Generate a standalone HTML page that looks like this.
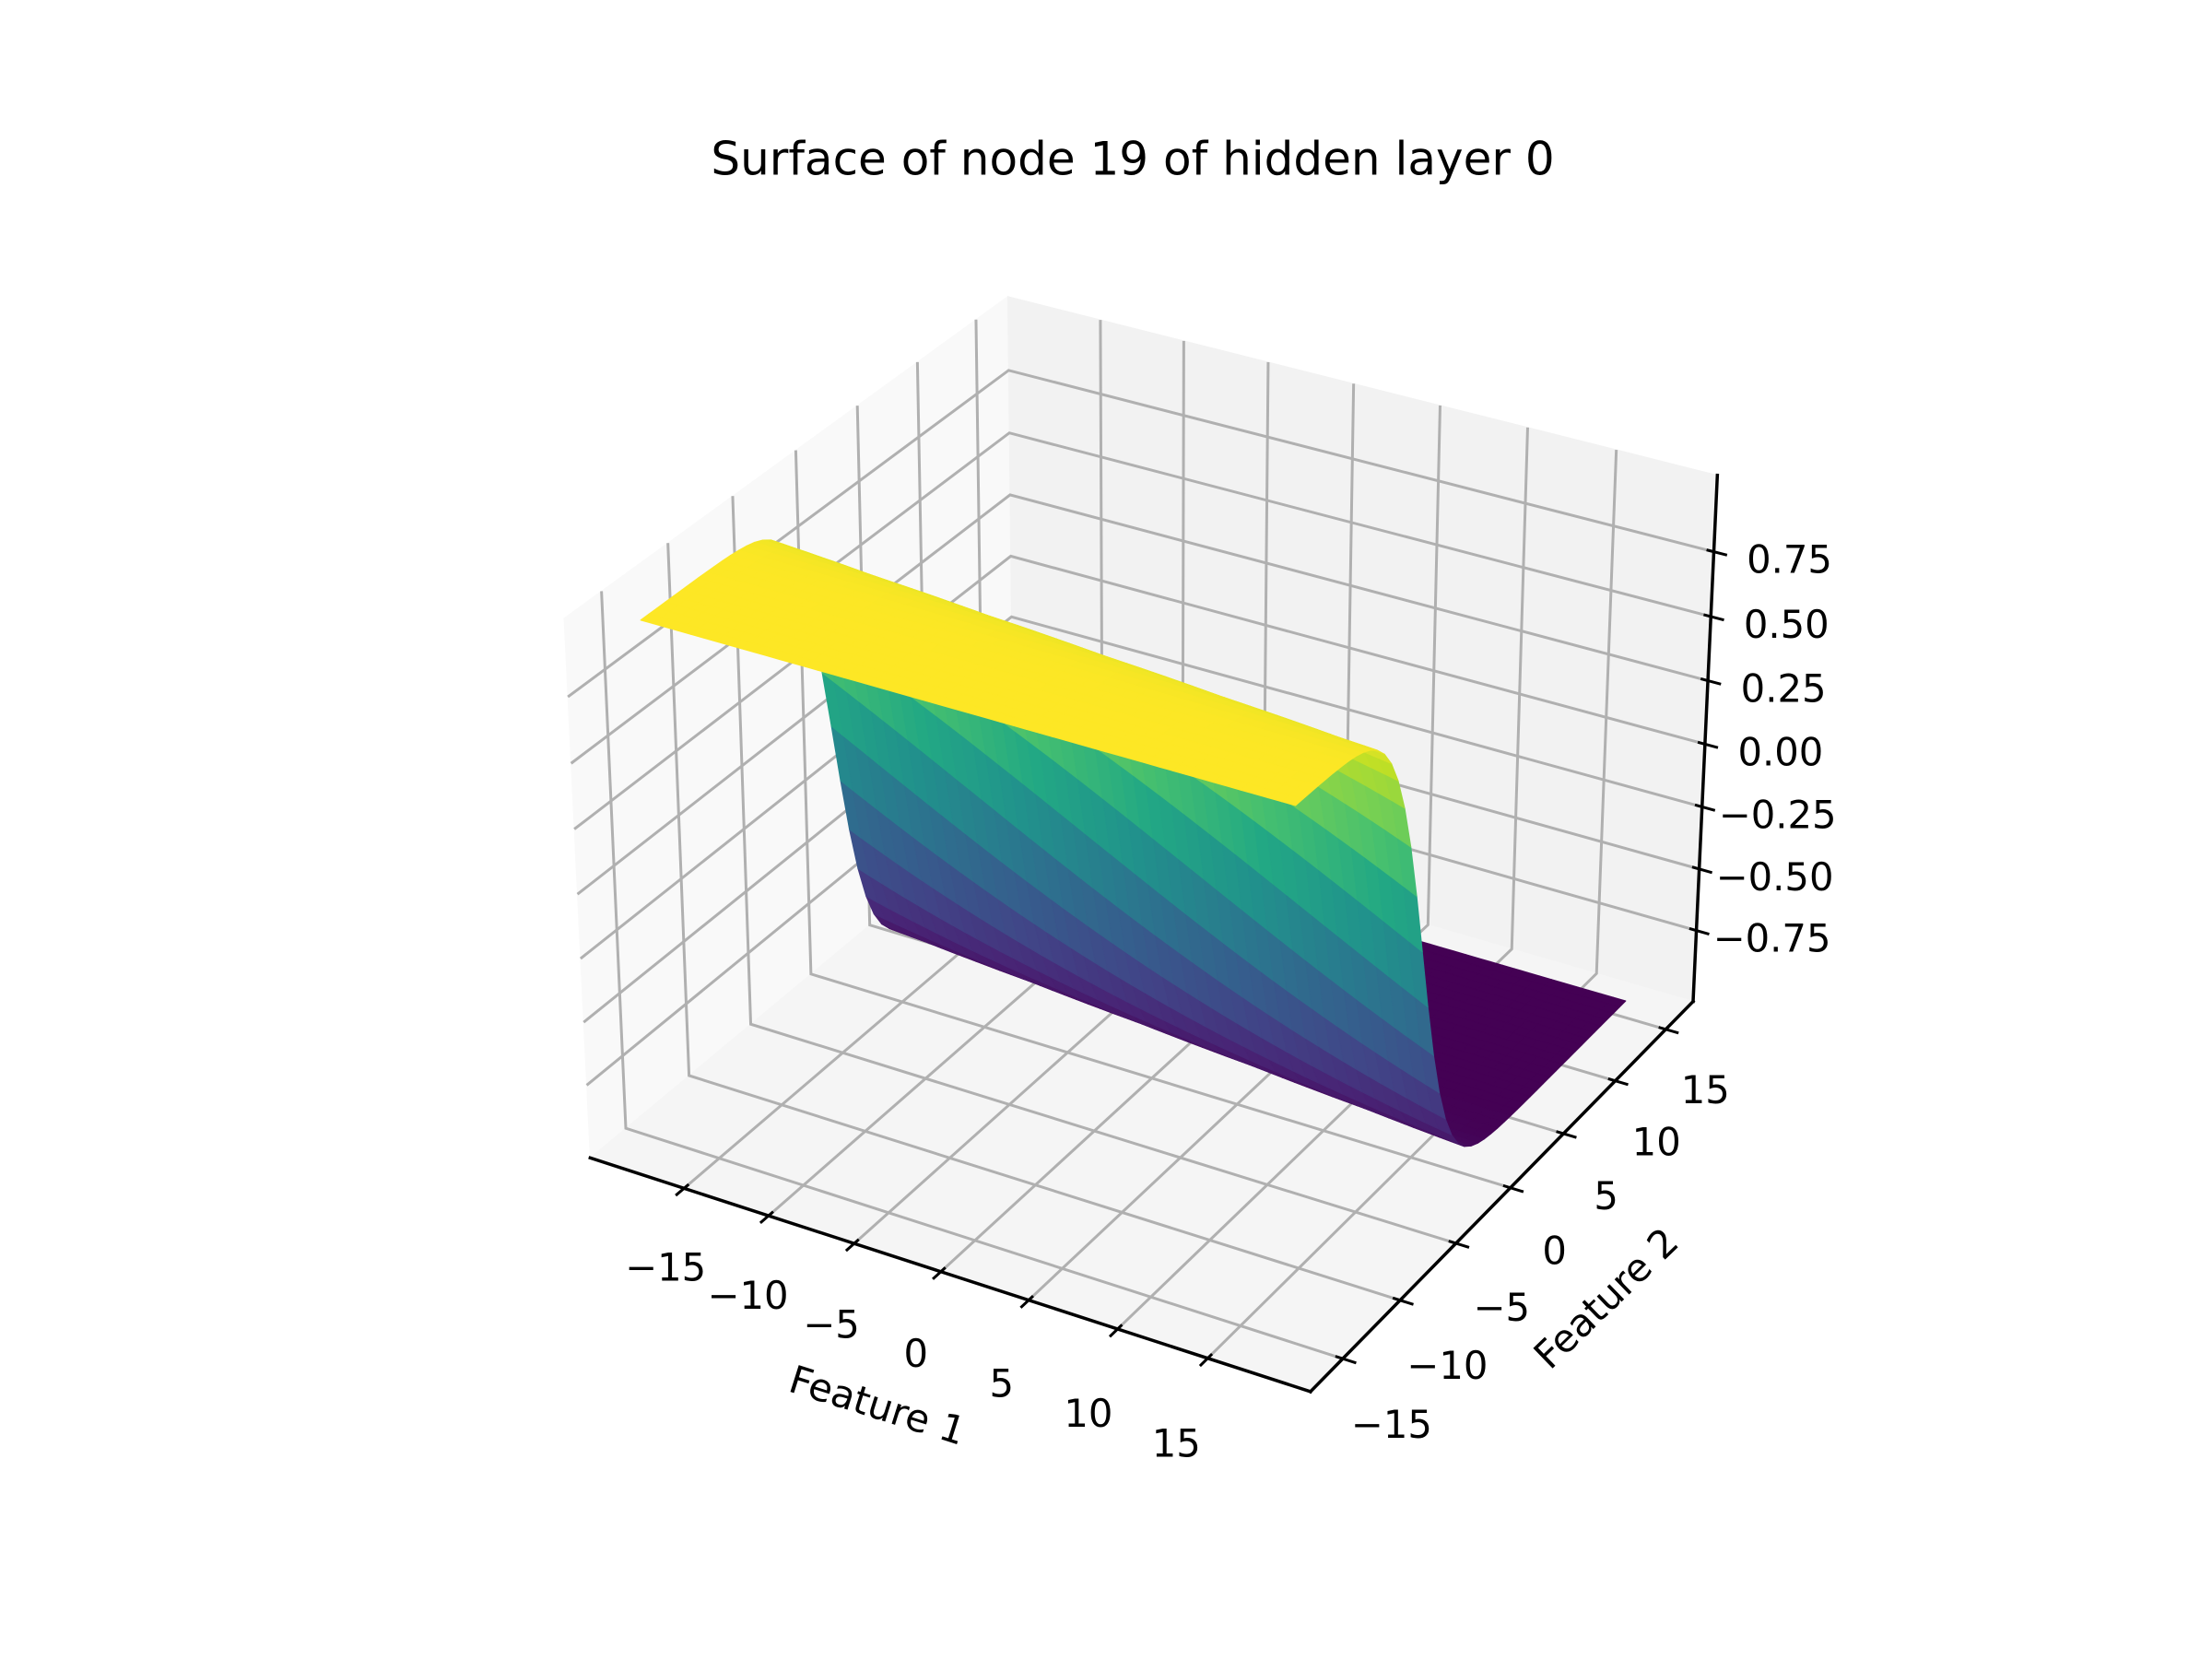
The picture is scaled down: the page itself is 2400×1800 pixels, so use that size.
<!DOCTYPE html>
<html>
<head>
<meta charset="utf-8">
<style>
html,body{margin:0;padding:0;background:#fff}
svg{display:block}
text{font-family:"DejaVu Sans","Liberation Sans",sans-serif;fill:#000}
</style>
</head>
<body>
<svg id="chart" xmlns="http://www.w3.org/2000/svg" width="2400" height="1800" viewBox="0 0 2400 1800">
<rect width="2400" height="1800" fill="#ffffff"/>
<g id="panes"></g>
<g id="grid"></g>
<g id="axes"></g>
<g id="surface"></g>
<g id="ticklabels" font-size="41.7"></g>
<text x="1229" y="176" text-anchor="middle" dominant-baseline="middle" font-size="50">Surface of node 19 of hidden layer 0</text>
<text transform="translate(951,1528) rotate(17.5)" text-anchor="middle" dominant-baseline="middle" font-size="41.7">Feature 1</text>
<text transform="translate(1745,1411) rotate(-44)" text-anchor="middle" dominant-baseline="middle" font-size="41.7">Feature 2</text>
</svg>
<script>
const feature1Range = [-18, 18];
const feature2Range = [-15.5, 15.5];
const gridCount = [51];
const nodeWeights = [-0.035, -0.39];
const nodeBias = [-1.05];
const zLimits = [-1, 1];
const xTickValues = [-15, -10, -5, 0, 5, 10, 15];
const yTickValues = [-15, -10, -5, 0, 5, 10, 15];
const zTickValues = [-0.75, -0.5, -0.25, 0, 0.25, 0.5, 0.75];
const xTickLabels = ['\u221215', '\u221210', '\u22125', '0', '5', '10', '15'];
const yTickLabels = ['\u221215', '\u221210', '\u22125', '0', '5', '10', '15'];
const zTickLabels = ['\u22120.75', '\u22120.50', '\u22120.25', '0.00', '0.25', '0.50', '0.75'];

const NS = 'http://www.w3.org/2000/svg';
const margin = 0.05;
function lims(r){ const s = r[1]-r[0]; return [r[0]-margin*s, r[1]+margin*s]; }
const XL = lims(feature1Range), YL = lims(feature2Range), ZL = zLimits.slice();
function padded(L){ const p=(L[1]-L[0])/48; return [L[0]-p, L[1]+p]; }
const XB = padded(XL), YB = padded(YL), ZB = padded(ZL);

const elev = 30*Math.PI/180, azim = -60*Math.PI/180;
const bx = [4,4,3].map(v => v*1.8294640721620434/Math.sqrt(41));
const R = bx.map(v => v/2);
const wv = [Math.cos(elev)*Math.cos(azim), Math.cos(elev)*Math.sin(azim), Math.sin(elev)];
const eye = R.map((r,i) => r + 10*wv[i]);
function cross(a,b){ return [a[1]*b[2]-a[2]*b[1], a[2]*b[0]-a[0]*b[2], a[0]*b[1]-a[1]*b[0]]; }
function norm(a){ const l=Math.hypot(a[0],a[1],a[2]); return a.map(v=>v/l); }
function dot(a,b){ return a[0]*b[0]+a[1]*b[1]+a[2]*b[2]; }
const uv = norm(cross([0,0,1], wv));
const vv = cross(wv, uv);
function proj(x,y,z){
  const p = [(x-XL[0])/(XL[1]-XL[0])*bx[0], (y-YL[0])/(YL[1]-YL[0])*bx[1], (z-ZL[0])/(ZL[1]-ZL[0])*bx[2]];
  const d = [p[0]-eye[0], p[1]-eye[1], p[2]-eye[2]];
  const zv = dot(wv,d);
  return [dot(uv,d)/(-zv), dot(vv,d)/(-zv), zv];
}
const cornersData = [[XB[0],YB[0],ZB[1]],[XB[0],YB[0],ZB[0]],[XB[1],YB[0],ZB[0]],[XB[1],YB[1],ZB[0]],[XB[1],YB[1],ZB[1]],[XB[0],YB[1],ZB[1]]];
const cornersScreen = [[613,670],[640,1247],[1421,1515],[1834,1090],[1867,517],[1093,322]];
function fit(a,b){
  const n=a.length; let ma=0,mb=0; for(let i=0;i<n;i++){ma+=a[i];mb+=b[i];} ma/=n; mb/=n;
  let sab=0,saa=0; for(let i=0;i<n;i++){sab+=(a[i]-ma)*(b[i]-mb); saa+=(a[i]-ma)*(a[i]-ma);}
  const m=sab/saa; return [m, mb-m*ma];
}
const pc = cornersData.map(c => proj(c[0],c[1],c[2]));
const fx = fit(pc.map(p=>p[0]), cornersScreen.map(s=>s[0]));
const fy = fit(pc.map(p=>p[1]), cornersScreen.map(s=>s[1]));
function S(x,y,z){ const q=proj(x,y,z); return [fx[0]*q[0]+fx[1], fy[0]*q[1]+fy[1], q[2]]; }
function pts(list){ return list.map(p => { const s=S(p[0],p[1],p[2]); return s[0].toFixed(2)+','+s[1].toFixed(2); }).join(' '); }

const paneG = document.getElementById('panes');
const paneDefs = [
  ['left-pane', '#f9f9f9', [[XB[0],YB[0],ZB[0]],[XB[0],YB[1],ZB[0]],[XB[0],YB[1],ZB[1]],[XB[0],YB[0],ZB[1]]]],
  ['back-pane', '#f2f2f2', [[XB[0],YB[1],ZB[0]],[XB[1],YB[1],ZB[0]],[XB[1],YB[1],ZB[1]],[XB[0],YB[1],ZB[1]]]],
  ['floor-pane', '#f5f5f5', [[XB[0],YB[0],ZB[0]],[XB[1],YB[0],ZB[0]],[XB[1],YB[1],ZB[0]],[XB[0],YB[1],ZB[0]]]]
];
paneDefs.forEach(pd => {
  const el = document.createElementNS(NS,'polygon');
  el.setAttribute('points', pts(pd[2]));
  el.setAttribute('fill', pd[1]);
  el.setAttribute('stroke', pd[1]);
  el.setAttribute('stroke-width', '1');
  
  
  paneG.appendChild(el);
});

const gridG = document.getElementById('grid');
function gridLine(list, name){
  const el = document.createElementNS(NS,'polyline');
  el.setAttribute('points', pts(list));
  el.setAttribute('fill', 'none');
  el.setAttribute('stroke', '#b0b0b0');
  el.setAttribute('stroke-width', '3');
  
  
  gridG.appendChild(el);
}
xTickValues.forEach(t => gridLine([[t,YB[0],ZB[0]],[t,YB[1],ZB[0]],[t,YB[1],ZB[1]]], 'x-gridline'));
yTickValues.forEach(t => gridLine([[XB[1],t,ZB[0]],[XB[0],t,ZB[0]],[XB[0],t,ZB[1]]], 'y-gridline'));
zTickValues.forEach(t => gridLine([[XB[1],YB[1],t],[XB[0],YB[1],t],[XB[0],YB[0],t]], 'z-gridline'));

const axG = document.getElementById('axes');
function blackLine(a,b,w,name){
  const p=S(a[0],a[1],a[2]), q=S(b[0],b[1],b[2]);
  const el = document.createElementNS(NS,'line');
  el.setAttribute('x1',p[0].toFixed(2)); el.setAttribute('y1',p[1].toFixed(2));
  el.setAttribute('x2',q[0].toFixed(2)); el.setAttribute('y2',q[1].toFixed(2));
  el.setAttribute('stroke','#000'); el.setAttribute('stroke-width', w);
  el.setAttribute('stroke-linecap','square');
  
  
  axG.appendChild(el);
}
blackLine([XB[0],YB[0],ZB[0]],[XB[1],YB[0],ZB[0]],3.5,'x-axis-line');
blackLine([XB[1],YB[0],ZB[0]],[XB[1],YB[1],ZB[0]],3.5,'y-axis-line');
blackLine([XB[1],YB[1],ZB[0]],[XB[1],YB[1],ZB[1]],3.5,'z-axis-line');
const dX=(XL[1]-XL[0])/12, dY=(YL[1]-YL[0])/12;
xTickValues.forEach(t => blackLine([t,YB[0]+0.1*dY,ZB[0]],[t,YB[0]-0.2*dY,ZB[0]],3,'x-tick-mark'));
yTickValues.forEach(t => blackLine([XB[1]-0.1*dX,t,ZB[0]],[XB[1]+0.2*dX,t,ZB[0]],3,'y-tick-mark'));
zTickValues.forEach(t => blackLine([XB[1]-0.1*dX,YB[1],t],[XB[1]+0.2*dX,YB[1],t],3,'z-tick-mark'));

const tlG = document.getElementById('ticklabels');
function label(x,y,txt,name){
  const el = document.createElementNS(NS,'text');
  el.setAttribute('x', x.toFixed(1)); el.setAttribute('y', y.toFixed(1));
  el.setAttribute('text-anchor','middle'); el.setAttribute('dominant-baseline','middle');
  el.textContent = txt;
  
  
  tlG.appendChild(el);
}
xTickValues.forEach((t,i) => { const p=S(t,YB[0],ZB[0]); const f=i/(xTickValues.length-1); label(p[0]-20-14*f, p[1]+89+7*f, xTickLabels[i], 'x-tick-label'); });
yTickValues.forEach((t,i) => { const p=S(XB[1],t,ZB[0]); const f=i/(yTickValues.length-1); label(p[0]+53-10*f, p[1]+75-6*f, yTickLabels[i], 'y-tick-label'); });
zTickValues.forEach((t,i) => { const p=S(XB[1],YB[1],t); label(p[0]+82, p[1]+12, zTickLabels[i], 'z-tick-label'); });

const viridis = [[68,1,84],[72,36,117],[65,68,135],[53,95,141],[42,120,142],[33,145,140],[34,168,132],[68,191,112],[122,209,81],[189,223,38],[253,231,37]];
function cmap(v){
  v=Math.max(0,Math.min(1,v))*10; const i=Math.min(9,Math.floor(v)); const f=v-i;
  const a=viridis[i], b=viridis[i+1];
  return 'rgb('+a.map((c,k)=>Math.round(c+(b[k]-c)*f)).join(',')+')';
}

const n = gridCount[0];
const xs=[], ys=[];
for(let i=0;i<n;i++){ xs.push(feature1Range[0]+(feature1Range[1]-feature1Range[0])*i/(n-1)); ys.push(feature2Range[0]+(feature2Range[1]-feature2Range[0])*i/(n-1)); }
function zf(x,y){ return Math.tanh(nodeWeights[0]*x + nodeWeights[1]*y + nodeBias[0]); }
const P=[];
for(let i=0;i<n;i++){ P.push([]); for(let j=0;j<n;j++){ const z=zf(xs[i],ys[j]); P[i].push({s:S(xs[i],ys[j],z), z:z}); } }
const facets=[]; let vmin=Infinity, vmax=-Infinity;
for(let i=0;i<n-1;i++){ for(let j=0;j<n-1;j++){
  const c=[P[i][j],P[i+1][j],P[i+1][j+1],P[i][j+1]];
  const az=(c[0].z+c[1].z+c[2].z+c[3].z)/4;
  const dep=(c[0].s[2]+c[1].s[2]+c[2].s[2]+c[3].s[2])/4;
  vmin=Math.min(vmin,az); vmax=Math.max(vmax,az);
  facets.push({c:c, z:az, d:dep});
}}
facets.sort((a,b)=>a.d-b.d);
const surfG = document.getElementById('surface');
facets.forEach(f => {
  const col = cmap((f.z-vmin)/(vmax-vmin));
  const el = document.createElementNS(NS,'polygon');
  el.setAttribute('points', f.c.map(p=>p.s[0].toFixed(2)+','+p.s[1].toFixed(2)).join(' '));
  el.setAttribute('fill', col);
  el.setAttribute('stroke', col);
  el.setAttribute('stroke-width', '1');
  el.setAttribute('stroke-linejoin', 'round');
  
  
  surfG.appendChild(el);
});
</script>
</body>
</html>
